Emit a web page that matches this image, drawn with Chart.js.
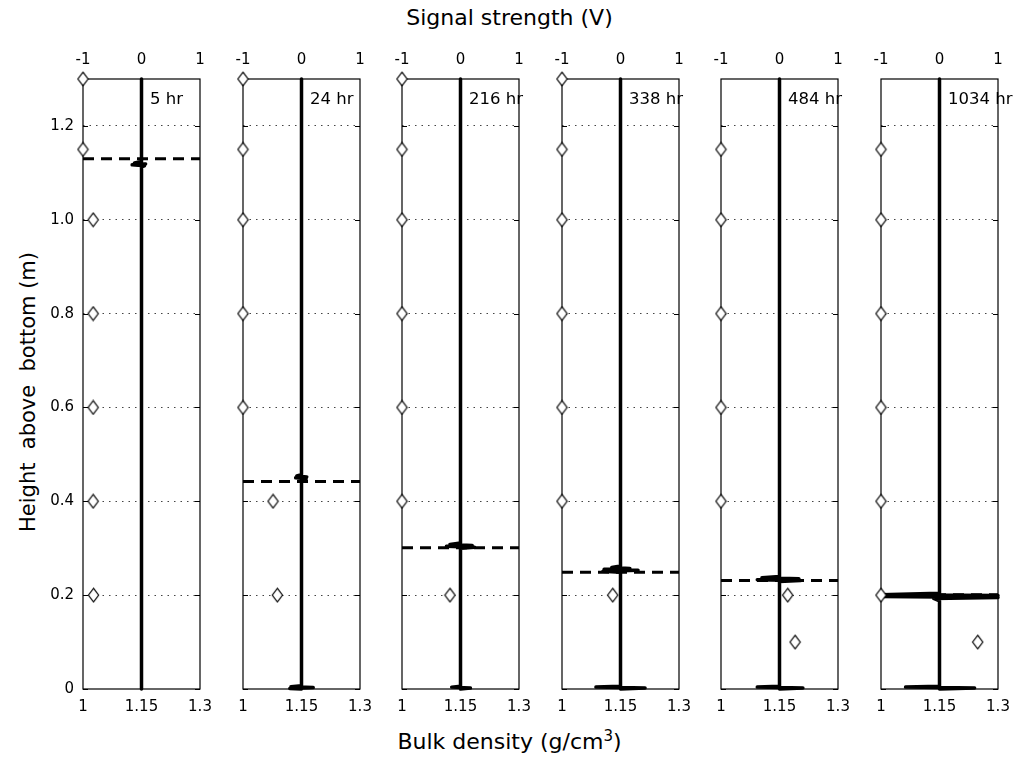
<!DOCTYPE html>
<html>
<head>
<meta charset="utf-8">
<script src="https://cdn.jsdelivr.net/npm/chart.js@4/dist/chart.umd.min.js"></script>
<style>
  html, body { margin: 0; padding: 0; background: #fff; }
  body { width: 1019px; height: 773px; position: relative; overflow: hidden;
         font-family: "DejaVu Sans", "Liberation Sans", Arial, sans-serif; color: #000; }
  canvas.panel { position: absolute; }
  .title { position: absolute; white-space: pre; line-height: 1; font-size: 22px; }
  #topTitle { left: 0; width: 1019px; text-align: center; top: 7px; }
  #bottomTitle { left: 0; width: 1019px; text-align: center; top: 731px; }
  #bottomTitle sup { font-size: 15px; vertical-align: 8px; line-height: 0; }
  #leftTitle { left: 28px; top: 392px; font-size: 21px; transform: translate(-50%, -50%) rotate(-90deg); }
</style>
</head>
<body>
<div class="title" id="topTitle">Signal strength (V)</div>
<div class="title" id="leftTitle">Height  above  bottom (m)</div>
<div class="title" id="bottomTitle">Bulk density (g/cm<sup>3</sup>)</div>

<script>
// ---- data -------------------------------------------------------------
const panelLabels = ['5 hr', '24 hr', '216 hr', '338 hr', '484 hr', '1034 hr'];
const heightTicks = [0, 0.2, 0.4, 0.6, 0.8, 1.0, 1.2];
const densityTicks = [1, 1.15, 1.3];
const signalTicks = [-1, 0, 1];

// Bulk density samples (diamonds): heights (m) and densities (g/cm3)
const densityHeights = [
  [1.3, 1.15, 1.0, 0.8, 0.6, 0.4, 0.2],
  [1.3, 1.15, 1.0, 0.8, 0.6, 0.4, 0.2],
  [1.3, 1.15, 1.0, 0.8, 0.6, 0.4, 0.2],
  [1.3, 1.15, 1.0, 0.8, 0.6, 0.4, 0.2],
  [1.15, 1.0, 0.8, 0.6, 0.4, 0.2, 0.1],
  [1.15, 1.0, 0.8, 0.6, 0.4, 0.2, 0.1]
];
const densityValues = [
  [1.0, 1.0, 1.026, 1.026, 1.026, 1.026, 1.027],
  [1.0, 1.0, 1.0, 1.0, 1.0, 1.077, 1.088],
  [1.0, 1.0, 1.0, 1.0, 1.0, 1.0, 1.123],
  [1.0, 1.0, 1.0, 1.0, 1.0, 1.0, 1.13],
  [1.0, 1.0, 1.0, 1.0, 1.0, 1.171, 1.19],
  [1.0, 1.0, 1.0, 1.0, 1.0, 1.0, 1.248]
];

// Observed interface height (dashed line), m
const interfaceHeights = [1.13, 0.442, 0.301, 0.249, 0.231, 0.201];

// Acoustic signal trace: heights (m) and signal strength (V)
const signalHeights = [
  [1.3, 1.124, 1.121, 1.119, 1.117, 1.115, 1.113, 0],
  [1.3, 0.457, 0.454, 0.452, 0.45, 0.448, 0.446, 0.007, 0.005, 0.003, 0.001, 0],
  [1.3, 0.311, 0.308, 0.306, 0.304, 0.302, 0.3, 0.006, 0.004, 0.002, 0],
  [1.3, 0.262, 0.259, 0.257, 0.255, 0.253, 0.251, 0.249, 0.006, 0.004, 0.002, 0],
  [1.3, 0.24, 0.237, 0.235, 0.233, 0.231, 0.229, 0.006, 0.004, 0.002, 0],
  [1.3, 0.204, 0.201, 0.199, 0.197, 0.195, 0.193, 0.188, 0.006, 0.004, 0.002, 0]
];
const signalValues = [
  [0, 0, -0.12, 0.07, -0.16, 0.05, 0, 0],
  [0, 0, -0.08, 0.09, -0.1, 0.08, 0, 0, -0.18, 0.2, -0.2, 0],
  [0, 0, -0.18, 0.2, -0.24, 0.24, 0, 0, -0.15, 0.17, 0],
  [0, 0, -0.15, 0.16, -0.28, 0.3, -0.3, 0, 0, -0.42, 0.42, 0],
  [0, 0, -0.3, 0.33, -0.38, 0.36, 0, 0, -0.38, 0.4, 0],
  [0, 0, -1, 1, -1, 1, -0.1, 0, 0, -0.58, 0.6, 0]
];

// ---- layout -------------------------------------------------------------
const FIRST_LEFT = 83.3, PANEL_STEP = 159.5, PANEL_W = 117;
const AXIS_W = 60, RIGHT_PAD = 25, TOP_AX = 39, BOTTOM_AX = 40;
const AREA_TOP = 79, AREA_BOTTOM = 689;
const FONT = '"DejaVu Sans", "Liberation Sans", Arial, sans-serif';

// outlined diamond marker, slightly taller than wide
function makeDiamond() {
  const c = document.createElement('canvas');
  c.width = 13; c.height = 16;
  const g = c.getContext('2d');
  g.beginPath();
  g.moveTo(6.5, 1.2); g.lineTo(11.6, 8); g.lineTo(6.5, 14.8); g.lineTo(1.4, 8); g.closePath();
  g.fillStyle = '#fff'; g.fill();
  g.lineWidth = 1.2; g.strokeStyle = '#000'; g.stroke();
  return c;
}
const diamond = makeDiamond();

const framePlugin = {
  id: 'frame',
  beforeDatasetsDraw(chart) {
    const { ctx, chartArea: a, scales } = chart;
    ctx.save();
    ctx.strokeStyle = '#000';
    ctx.lineWidth = 1.2;
    ctx.strokeRect(a.left, a.top, a.right - a.left, a.bottom - a.top);
    ctx.lineWidth = 1;
    ctx.beginPath();
    heightTicks.forEach(v => {
      const y = Math.round(scales.y.getPixelForValue(v)) + 0.5;
      ctx.moveTo(a.left, y); ctx.lineTo(a.left + 5, y);
      ctx.moveTo(a.right, y); ctx.lineTo(a.right - 5, y);
    });
    ctx.stroke();
    ctx.restore();
  },
  afterDraw(chart, args, opts) {
    const { ctx, chartArea: a } = chart;
    ctx.save();
    ctx.fillStyle = '#000';
    ctx.font = '16.5px ' + FONT;
    ctx.textAlign = 'left';
    ctx.textBaseline = 'alphabetic';
    ctx.fillText(opts.label, a.left + 67, a.top + 25);
    ctx.restore();
  }
};

const tickFont = { family: FONT, size: 15 };

panelLabels.forEach((label, i) => {
  const left = Math.round(FIRST_LEFT + i * PANEL_STEP);
  const cv = document.createElement('canvas');
  cv.className = 'panel';
  const w = AXIS_W + PANEL_W + RIGHT_PAD;
  const h = (AREA_BOTTOM - AREA_TOP) + TOP_AX + BOTTOM_AX;
  cv.width = w; cv.height = h;
  cv.style.width = w + 'px'; cv.style.height = h + 'px';
  cv.style.left = (left - AXIS_W) + 'px';
  cv.style.top = (AREA_TOP - TOP_AX) + 'px';
  document.body.appendChild(cv);

  const diamonds = densityHeights[i].map((y, k) => ({ x: densityValues[i][k], y }));
  const signal = signalHeights[i].map((y, k) => ({ x: signalValues[i][k], y }));
  const iface = [{ x: densityTicks[0], y: interfaceHeights[i] },
                 { x: densityTicks[densityTicks.length - 1], y: interfaceHeights[i] }];

  new Chart(cv, {
    type: 'scatter',
    data: {
      datasets: [
        { label: 'Bulk density', data: diamonds, xAxisID: 'x', yAxisID: 'y',
          pointStyle: diamond, pointRadius: 7, showLine: false, clip: false },
        { label: 'Interface', data: iface, xAxisID: 'x', yAxisID: 'y',
          showLine: true, borderColor: '#000', borderWidth: 3, borderDash: [11, 7],
          pointRadius: 0, clip: false },
        { label: 'Signal', data: signal, xAxisID: 'x2', yAxisID: 'y',
          showLine: true, borderColor: '#000', borderWidth: 3.5, pointRadius: 0,
          tension: 0, clip: false, borderJoinStyle: 'round', borderCapStyle: 'round' }
      ]
    },
    options: {
      responsive: false,
      animation: false,
      devicePixelRatio: 1,
      layout: { padding: { left: 0, right: RIGHT_PAD, top: 0, bottom: 0 } },
      plugins: { legend: { display: false }, tooltip: { enabled: false },
                 frame: { label } },
      scales: {
        x: {
          type: 'linear', position: 'bottom', min: 1, max: 1.3,
          afterBuildTicks: s => { s.ticks = densityTicks.map(v => ({ value: v })); },
          afterFit: s => { s.height = BOTTOM_AX; },
          ticks: { font: tickFont, color: '#000', padding: 9, maxRotation: 0, autoSkip: false,
                   callback: v => String(v) },
          grid: { display: false, drawTicks: false },
          border: { display: false }
        },
        x2: {
          type: 'linear', position: 'top', min: -1, max: 1,
          afterBuildTicks: s => { s.ticks = signalTicks.map(v => ({ value: v })); },
          afterFit: s => { s.height = TOP_AX; },
          ticks: { font: tickFont, color: '#000', padding: 10, maxRotation: 0, autoSkip: false,
                   callback: v => String(v) },
          grid: { display: false, drawTicks: false },
          border: { display: false }
        },
        y: {
          type: 'linear', position: 'left', min: 0, max: 1.3,
          afterBuildTicks: s => { s.ticks = heightTicks.map(v => ({ value: v })); },
          afterFit: s => { s.width = AXIS_W; },
          ticks: { display: i === 0, font: tickFont, color: '#000', padding: 9,
                   callback: v => (v === 0 ? '0' : v.toFixed(1)) },
          grid: { drawTicks: false, lineWidth: 1,
                  color: c => (c.tick && c.tick.value === 0 ? 'rgba(0,0,0,0)' : '#444') },
          border: { display: false, dash: [1.5, 5] }
        }
      }
    },
    plugins: [framePlugin]
  });
});
</script>
</body>
</html>
